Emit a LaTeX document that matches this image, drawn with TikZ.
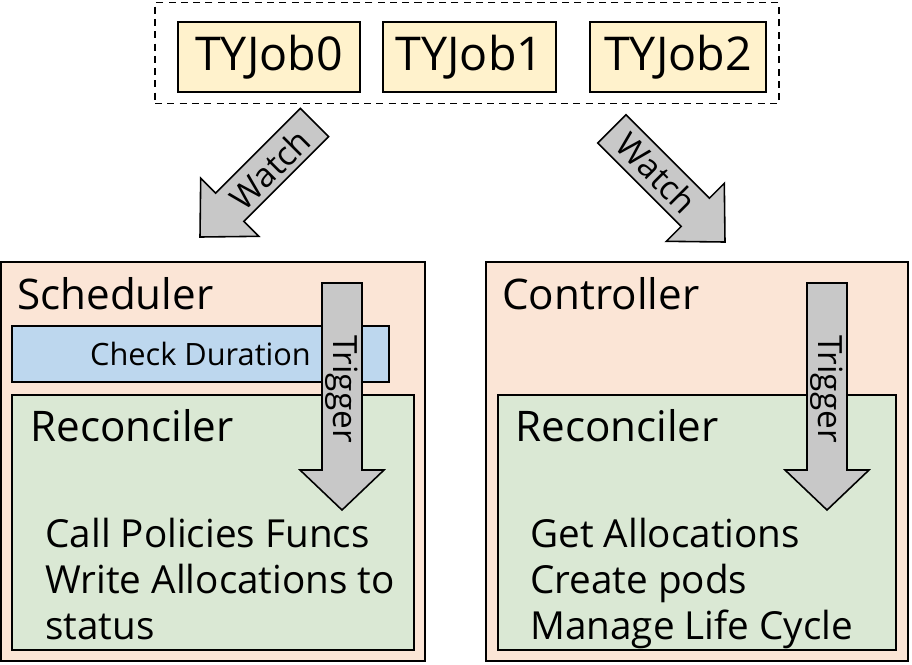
\documentclass[tikz,border=0pt]{standalone}
\usepackage{fontspec}
\setmainfont{Open Sans}
\usepackage{xcolor}

\definecolor{jobfill}{HTML}{FFF2CC}
\definecolor{peach}{HTML}{FBE5D6}
\definecolor{lightblue}{HTML}{BDD7EE}
\definecolor{lightgreen}{HTML}{DAE8D4}
\definecolor{arrowgray}{HTML}{C8C8C8}

\tikzset{
  box/.style={draw, line width=1.1pt, inner sep=0pt},
  jobbox/.style={box, fill=jobfill, minimum height=1.4cm, font=\fontsize{26.5}{30}\selectfont},
  title/.style={anchor=base west, inner sep=0pt},
  bodytext/.style={anchor=north west, inner sep=0pt, align=left, font=\fontsize{22}{26.2}\selectfont},
  bigarrow/.style={draw, line width=0.9pt, fill=arrowgray, line join=miter},
  arrowtext/.style={inner sep=0pt, font=\fontsize{19}{22}\selectfont},
}

\begin{document}
\begin{tikzpicture}[x=0.02cm, y=-0.02cm, font=\fontsize{24}{28}\selectfont]
        \useasboundingbox (0,0) rectangle (912,664);

        \node[box, dash pattern=on 4pt off 3pt, minimum width=12.48cm, minimum height=2.02cm] (jobs) at (467,53) {};
        \node[jobbox, minimum width=3.64cm] (job0) at (269,57) {TYJob0};
        \node[jobbox, minimum width=3.46cm] (job1) at (469.5,57) {TYJob1};
        \node[jobbox, minimum width=3.52cm] (job2) at (678,57) {TYJob2};

        \draw[bigarrow] (300.4,108.4) -- (328.6,136.6) -- (243.8,221.4) -- (258.7,236.3) -- (200,237)
          -- (200.7,178.3) -- (215.6,193.2) -- cycle;
        \node[arrowtext, rotate=45] (watch0) at (270,169) {Watch};
        \draw[bigarrow] (626,114.8) -- (709.4,198.2) -- (724.3,183.3) -- (725,242) -- (666.3,241.3)
          -- (681.2,226.4) -- (597.8,143) -- cycle;
        \node[arrowtext, rotate=-45] (watch1) at (657,173) {Watch};

        \node[box, fill=peach, minimum width=8.48cm, minimum height=7.98cm] (sched) at (213,461.5) {};
        \node[box, fill=lightblue, minimum width=7.54cm, minimum height=1.12cm,
          font=\fontsize{17.5}{20}\selectfont] (check) at (200.5,354) {Check Duration};
        \node[box, fill=lightgreen, minimum width=8.04cm, minimum height=5.1cm] (rec0) at (213,522.5) {};
        \node[title] (schedname) at (17,309) {Scheduler};
        \node[title] (rec0name) at (30,441) {Reconciler};
        \node[bodytext] (rec0text) at (45,518) {Call Policies Funcs\\Write Allocations to\\status};

        \node[box, fill=peach, minimum width=8.44cm, minimum height=7.98cm] (ctrl) at (697,461.5) {};
        \node[box, fill=lightgreen, minimum width=7.96cm, minimum height=5.1cm] (rec1) at (697,522.5) {};
        \node[title] (ctrlname) at (502,309) {Controller};
        \node[title] (rec1name) at (515,441) {Reconciler};
        \node[bodytext] (rec1text) at (530,518) {Get Allocations\\Create pods\\Manage Life Cycle};

        \foreach \x/\n in {342/0, 827/1} {
          \draw[bigarrow] (\x-20,283) -- (\x+20,283) -- (\x+20,470) -- (\x+42,470) -- (\x,510)
            -- (\x-42,470) -- (\x-20,470) -- cycle;
          \node[arrowtext, rotate=-90] (trigger\n) at (\x,389) {Trigger};
        }
\end{tikzpicture}
\end{document}
